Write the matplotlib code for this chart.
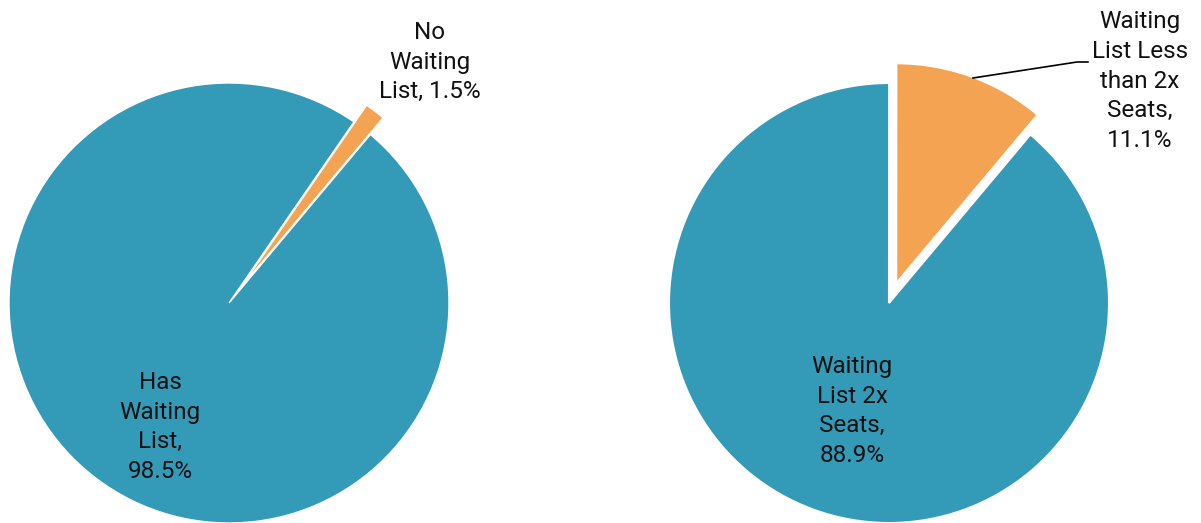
import matplotlib.pyplot as plt

# данные для двух диаграмм
left_labels = ['Has\nWaiting\nList,\n98.5%', 'No\nWaiting\nList, 1.5%']
left_values = [98.5, 1.5]
right_labels = ['Waiting\nList 2x\nSeats,\n88.9%', 'Waiting\nList Less\nthan 2x\nSeats,\n11.1%']
right_values = [88.9, 11.1]

teal = '#339AB8'
orange = '#F4A352'

W, H = 1201, 523
fig = plt.figure(figsize=(W / 100, H / 100), dpi=100)
ax = fig.add_axes([0, 0, 1, 1])

radius = 220
left_c = (229, H - 303)
right_c = (889, H - 303)

ax.pie(left_values, colors=[teal, orange], startangle=50, counterclock=False,
       center=left_c, radius=radius, explode=[0, 21],
       wedgeprops=dict(edgecolor='white', linewidth=1))
ax.pie(right_values, colors=[teal, orange], startangle=50, counterclock=False,
       center=right_c, radius=radius, explode=[0, 21],
       wedgeprops=dict(edgecolor='white', linewidth=1.5))

ax.set_xlim(0, W)
ax.set_ylim(0, H)
ax.set_aspect('auto')
ax.axis('off')

font = dict(family='Roboto', fontsize=17.5, ha='center', va='center', linespacing=1.37, color='#111111')

# подписи левой диаграммы
ax.text(left_c[0] - 69, left_c[1] - 124, left_labels[0], **font)
ax.text(left_c[0] + 201, left_c[1] + 241, left_labels[1], **font)

# подписи правой диаграммы
ax.text(right_c[0] - 37, right_c[1] - 108, right_labels[0], **font)
ax.text(right_c[0] + 251, right_c[1] + 222, right_labels[1], **font)

# линия-выноска
ax.plot([973, 1077, 1088], [H - 78, H - 62, H - 62], color='black', linewidth=1.2)

fig.savefig('out.png', dpi=100)
